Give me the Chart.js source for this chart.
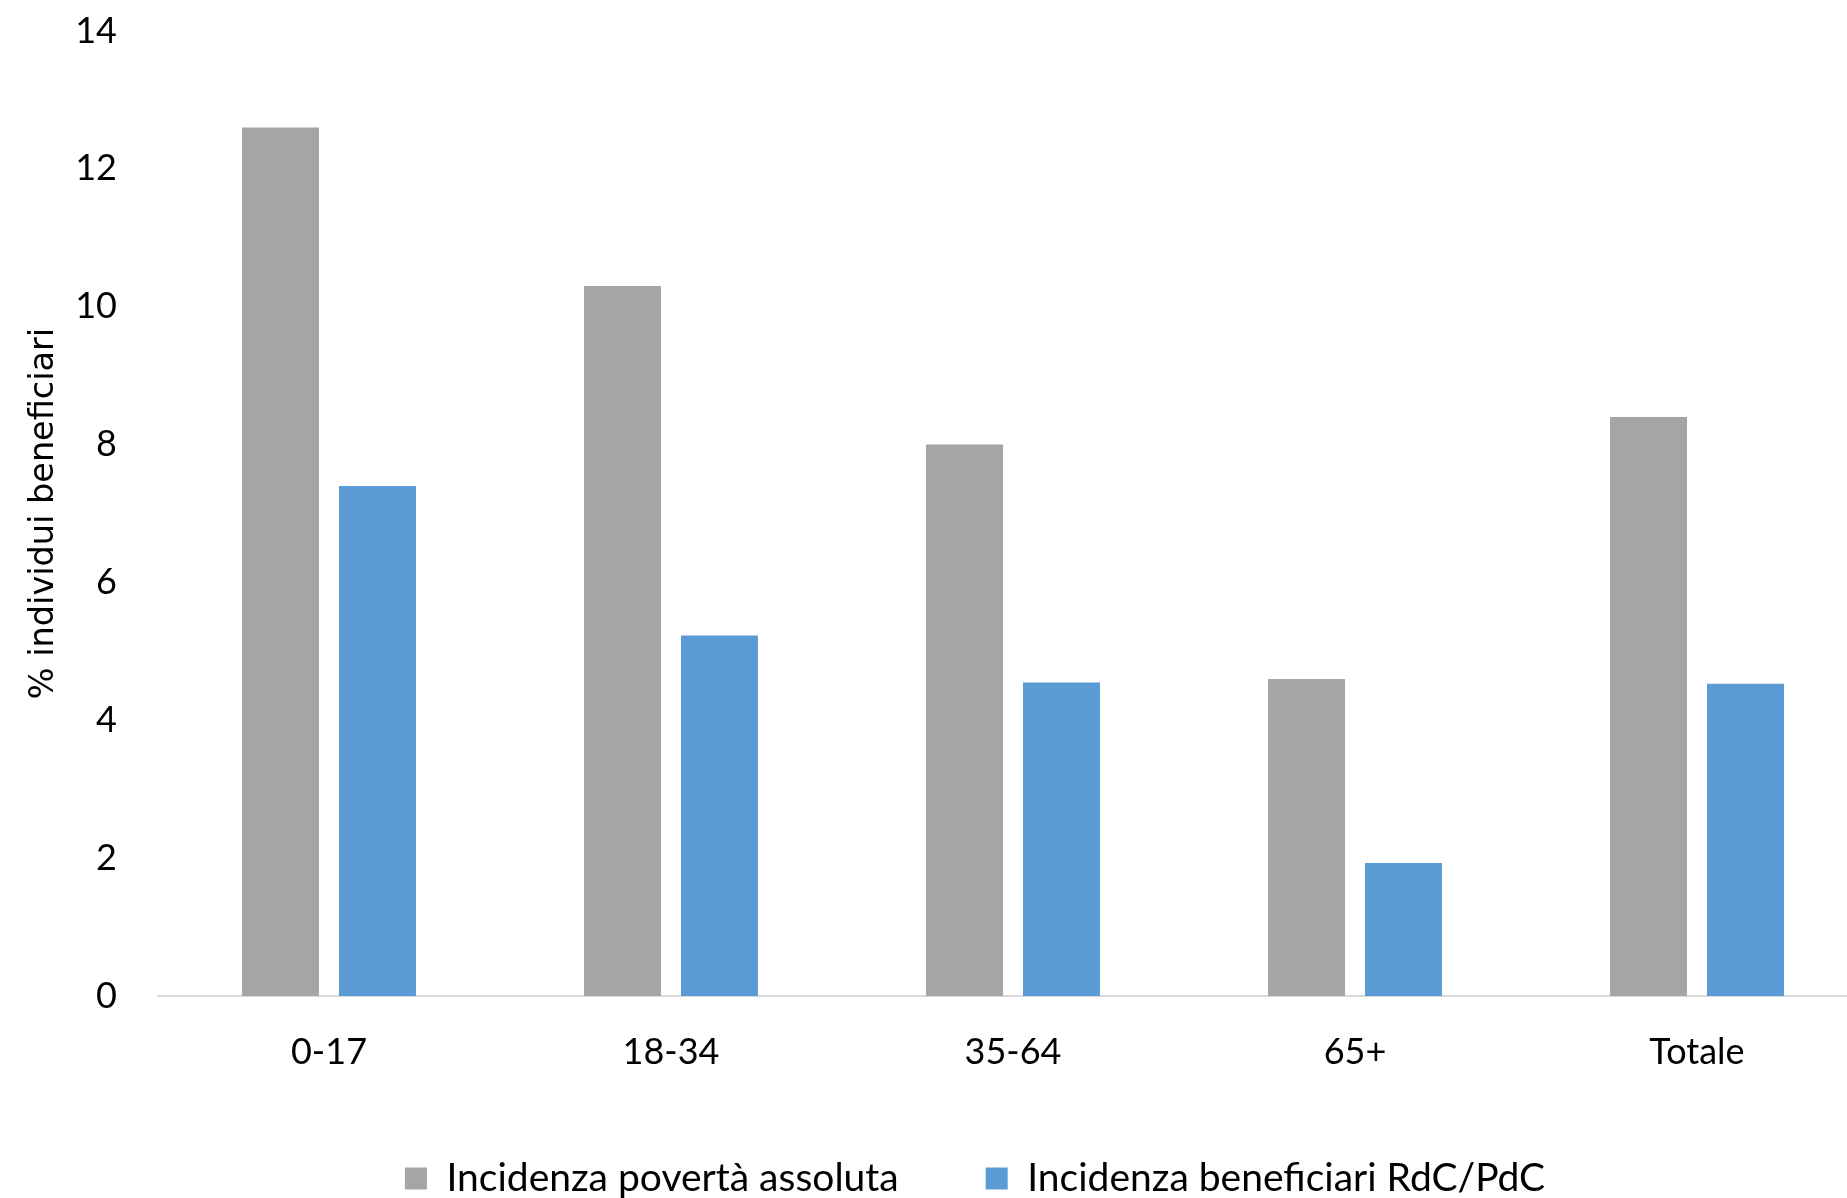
<!DOCTYPE html>
<html>
<head>
<meta charset="utf-8">
<script src="https://cdn.jsdelivr.net/npm/chart.js@4.4.1/dist/chart.umd.min.js"></script>
<style>
  html, body { margin: 0; padding: 0; background: #ffffff; overflow: hidden; }
  #wrap { width: 1847px; height: 1198px; overflow: hidden; position: relative; }
  canvas { display: block; }
</style>
</head>
<body>
<div id="wrap"><canvas id="c" width="1868" height="1198"></canvas></div>
<script>
const categories = ['0-17', '18-34', '35-64', '65+', 'Totale'];
const povertaAssoluta = [12.6, 10.3, 8.0, 4.6, 8.4];
const beneficiariRdC = [7.4, 5.23, 4.55, 1.93, 4.53];
const seriesNames = ['Incidenza povertà assoluta', 'Incidenza beneficiari RdC/PdC'];
const yTicks = [0, 2, 4, 6, 8, 10, 12, 14];
const yTitle = '% individui beneficiari';

const legendShift = {
  id: 'legendShift',
  afterLayout(chart) {
    const l = chart.legend;
    if (l) { l.left += 41; l.right += 41; }
  }
};

new Chart(document.getElementById('c'), {
  type: 'bar',
  data: {
    labels: categories,
    datasets: [
      { label: seriesNames[0], data: povertaAssoluta, backgroundColor: '#a5a5a5',
        categoryPercentage: 0.567, barPercentage: 0.794 },
      { label: seriesNames[1], data: beneficiariRdC, backgroundColor: '#5b9bd5',
        categoryPercentage: 0.567, barPercentage: 0.794 }
    ]
  },
  options: {
    responsive: false,
    animation: false,
    devicePixelRatio: 1,
    layout: { padding: { top: 31, left: 0, right: 0, bottom: 0 } },
    plugins: {
      tooltip: { enabled: false },
      legend: {
        position: 'bottom',
        maxHeight: 126,
        labels: {
          boxWidth: 22, boxHeight: 22, padding: 87,
          color: '#000000',
          font: { family: 'Lato', size: 39 }
        }
      }
    },
    scales: {
      x: {
        afterFit(scale) { scale.height = 76; },
        grid: { display: false, drawTicks: false },
        border: { display: true, color: '#d9d9d9', width: 2 },
        ticks: { color: '#000000', padding: 35, font: { family: 'Lato', size: 36 } }
      },
      y: {
        min: 0, max: 14,
        afterFit(scale) { scale.width = 158; scale.paddingTop = 0; scale.paddingBottom = 0; },
        afterBuildTicks(scale) { scale.ticks = yTicks.map(v => ({ value: v })); },
        grid: { display: false, drawTicks: false },
        border: { display: false },
        ticks: { color: '#000000', padding: 41, font: { family: 'Lato', size: 36 } },
        title: {
          display: true, text: yTitle, color: '#000000',
          font: { family: 'DejaVu Sans', size: 33.5 },
          padding: { top: 24, bottom: 10 }
        }
      }
    }
  },
  plugins: [legendShift]
});
</script>
</body>
</html>
